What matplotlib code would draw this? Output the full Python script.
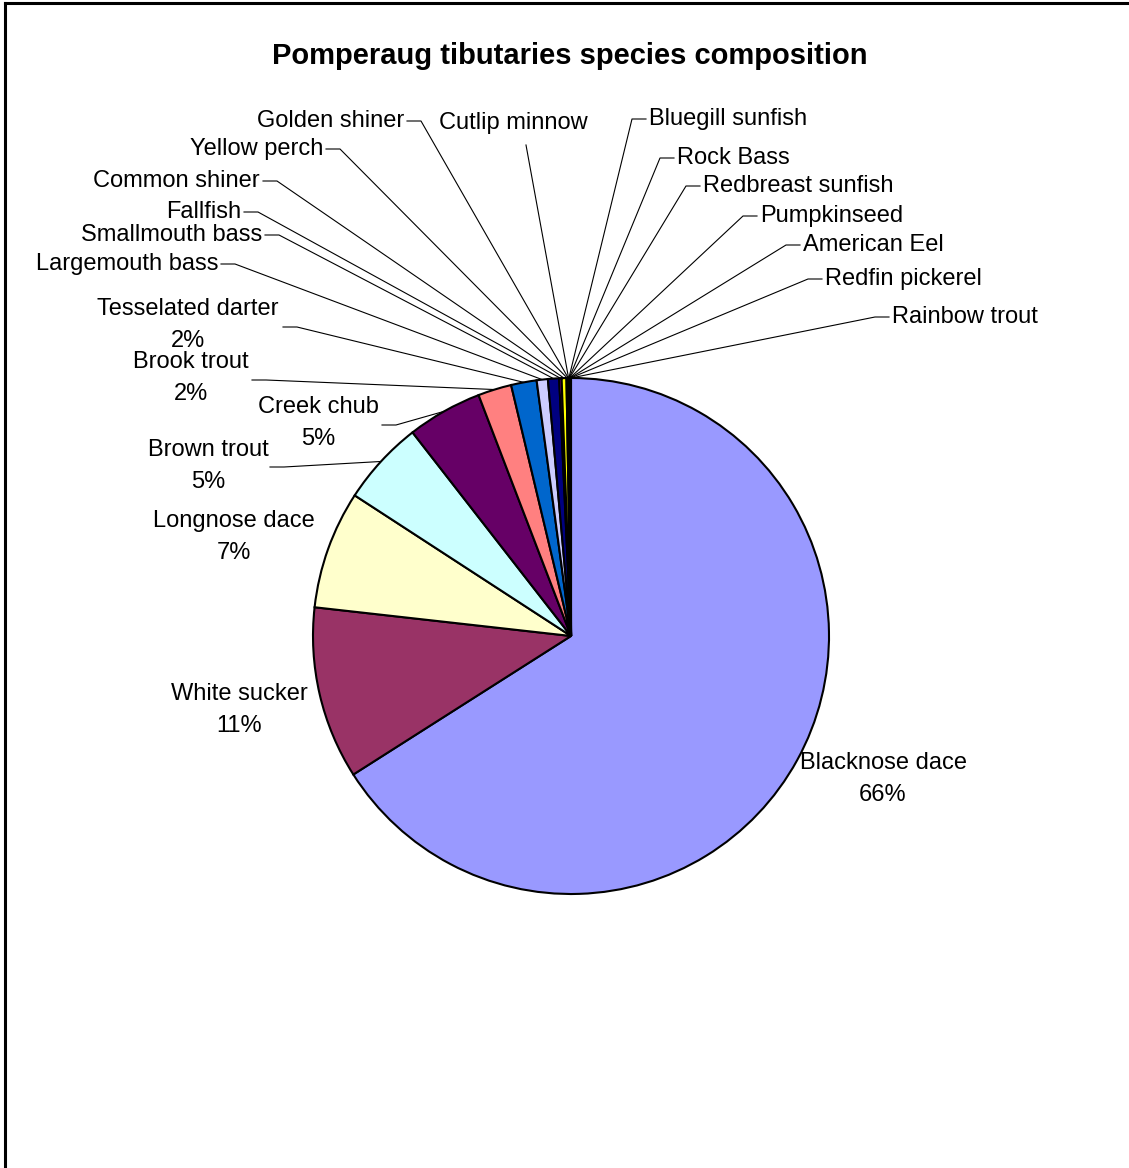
import math

import matplotlib.pyplot as plt
from matplotlib.lines import Line2D

plt.rcParams['font.family'] = ['Liberation Sans', 'DejaVu Sans']

species = [
    "Blacknose dace", "White sucker", "Longnose dace", "Brown trout",
    "Creek chub", "Brook trout", "Tesselated darter", "Largemouth bass",
    "Smallmouth bass", "Fallfish", "Common shiner", "Yellow perch",
    "Golden shiner", "Cutlip minnow", "Bluegill sunfish", "Rock Bass",
    "Redbreast sunfish", "Pumpkinseed", "American Eel", "Redfin pickerel",
    "Rainbow trout",
]
share = [
    66.0, 10.8, 7.4, 5.3,
    4.7, 2.1, 1.6, 0.7,
    0.7, 0.15, 0.3, 0.1,
    0.02, 0.02, 0.02, 0.02,
    0.02, 0.02, 0.02, 0.02,
    0.02,
]
colors = [
    "#9999FF", "#993366", "#FFFFCC", "#CCFFFF", "#660066", "#FF8080",
    "#0066CC", "#CCCCFF", "#000080", "#FF00FF", "#FFFF00", "#00FFFF",
    "#800080", "#800000", "#008080", "#0000FF", "#00CCFF", "#CCFFFF",
    "#CCFFCC", "#FFFF99", "#99CCFF",
]
# only the larger slices carry a percentage
show_pct = [True] * 7 + [False] * 14

W, H = 1129, 1168
CENTER = (571, 636)
RADIUS = 258
FS = 17

# label placement in pixels, measured from the top-left corner
label_xy = [
    (883, 763), (239, 694), (234, 521), (208, 450), (318, 407), (191, 362),
    (188, 309), (218, 264), (262, 235), (241, 212), (260, 181), (323, 149),
    (404, 121), (513, 123), (649, 119), (677, 158), (703, 186), (760, 216),
    (803, 245), (825, 279), (892, 317),
]
label_ha = ["center"] * 7 + ["right"] * 6 + ["center"] + ["left"] * 7
# where leaders leave the two-line labels and the centred one
leader_start = {3: (270, 467), 4: (382, 425), 5: (252, 380), 6: (283, 327), 13: (526, 145)}


def py(y):
    return H - y


fig = plt.figure(figsize=(W / 100, H / 100), dpi=100)
ax = fig.add_axes([0, 0, 1, 1])

wedges, _ = ax.pie(share, colors=colors, startangle=90, counterclock=False,
                   center=(CENTER[0], py(CENTER[1])), radius=RADIUS,
                   wedgeprops=dict(edgecolor="black", linewidth=1.5))
ax.set_xlim(0, W)
ax.set_ylim(0, H)
ax.set_aspect("equal")
ax.axis("off")

total = sum(share)
for i, (name, v) in enumerate(zip(species, share)):
    x, y = label_xy[i]
    ha = label_ha[i]
    ax.text(x, py(y), name, ha=ha, va="center", fontsize=FS)
    if show_pct[i]:
        ax.text(x, py(y + 32), f"{int(100 * v / total + 0.5)}%", ha="center",
                va="center", fontsize=FS)

    # leader line to the middle of the slice's arc
    w = wedges[i]
    a = math.radians((w.theta1 + w.theta2) / 2)
    tx = CENTER[0] + RADIUS * math.cos(a)
    ty = py(CENTER[1]) + RADIUS * math.sin(a)
    if ha == "right":
        pts = [(x + 3, py(y)), (x + 17, py(y)), (tx, ty)]
    elif ha == "left":
        pts = [(x - 3, py(y)), (x - 17, py(y)), (tx, ty)]
    elif i in leader_start:
        sx, sy = leader_start[i]
        if i == 13:
            pts = [(sx, py(sy)), (tx, ty)]
        else:
            pts = [(sx, py(sy)), (sx + 14, py(sy)), (tx, ty)]
    else:
        continue
    ax.add_line(Line2D([p[0] for p in pts], [p[1] for p in pts],
                       color="black", linewidth=0.8, zorder=0))

ax.text(570, py(56), "Pomperaug tibutaries species composition",
        ha="center", va="center", fontsize=21, fontweight="bold")

# chart area frame (left and top edges fall inside the image)
fig.add_artist(Line2D([4.5 / W, 4.5 / W], [0, 1 - 3 / H], transform=fig.transFigure,
                      color="black", linewidth=2.2))
fig.add_artist(Line2D([4.5 / W, 1], [1 - 3 / H, 1 - 3 / H], transform=fig.transFigure,
                      color="black", linewidth=2.2))

fig.savefig("out.png", dpi=100, facecolor="white")
